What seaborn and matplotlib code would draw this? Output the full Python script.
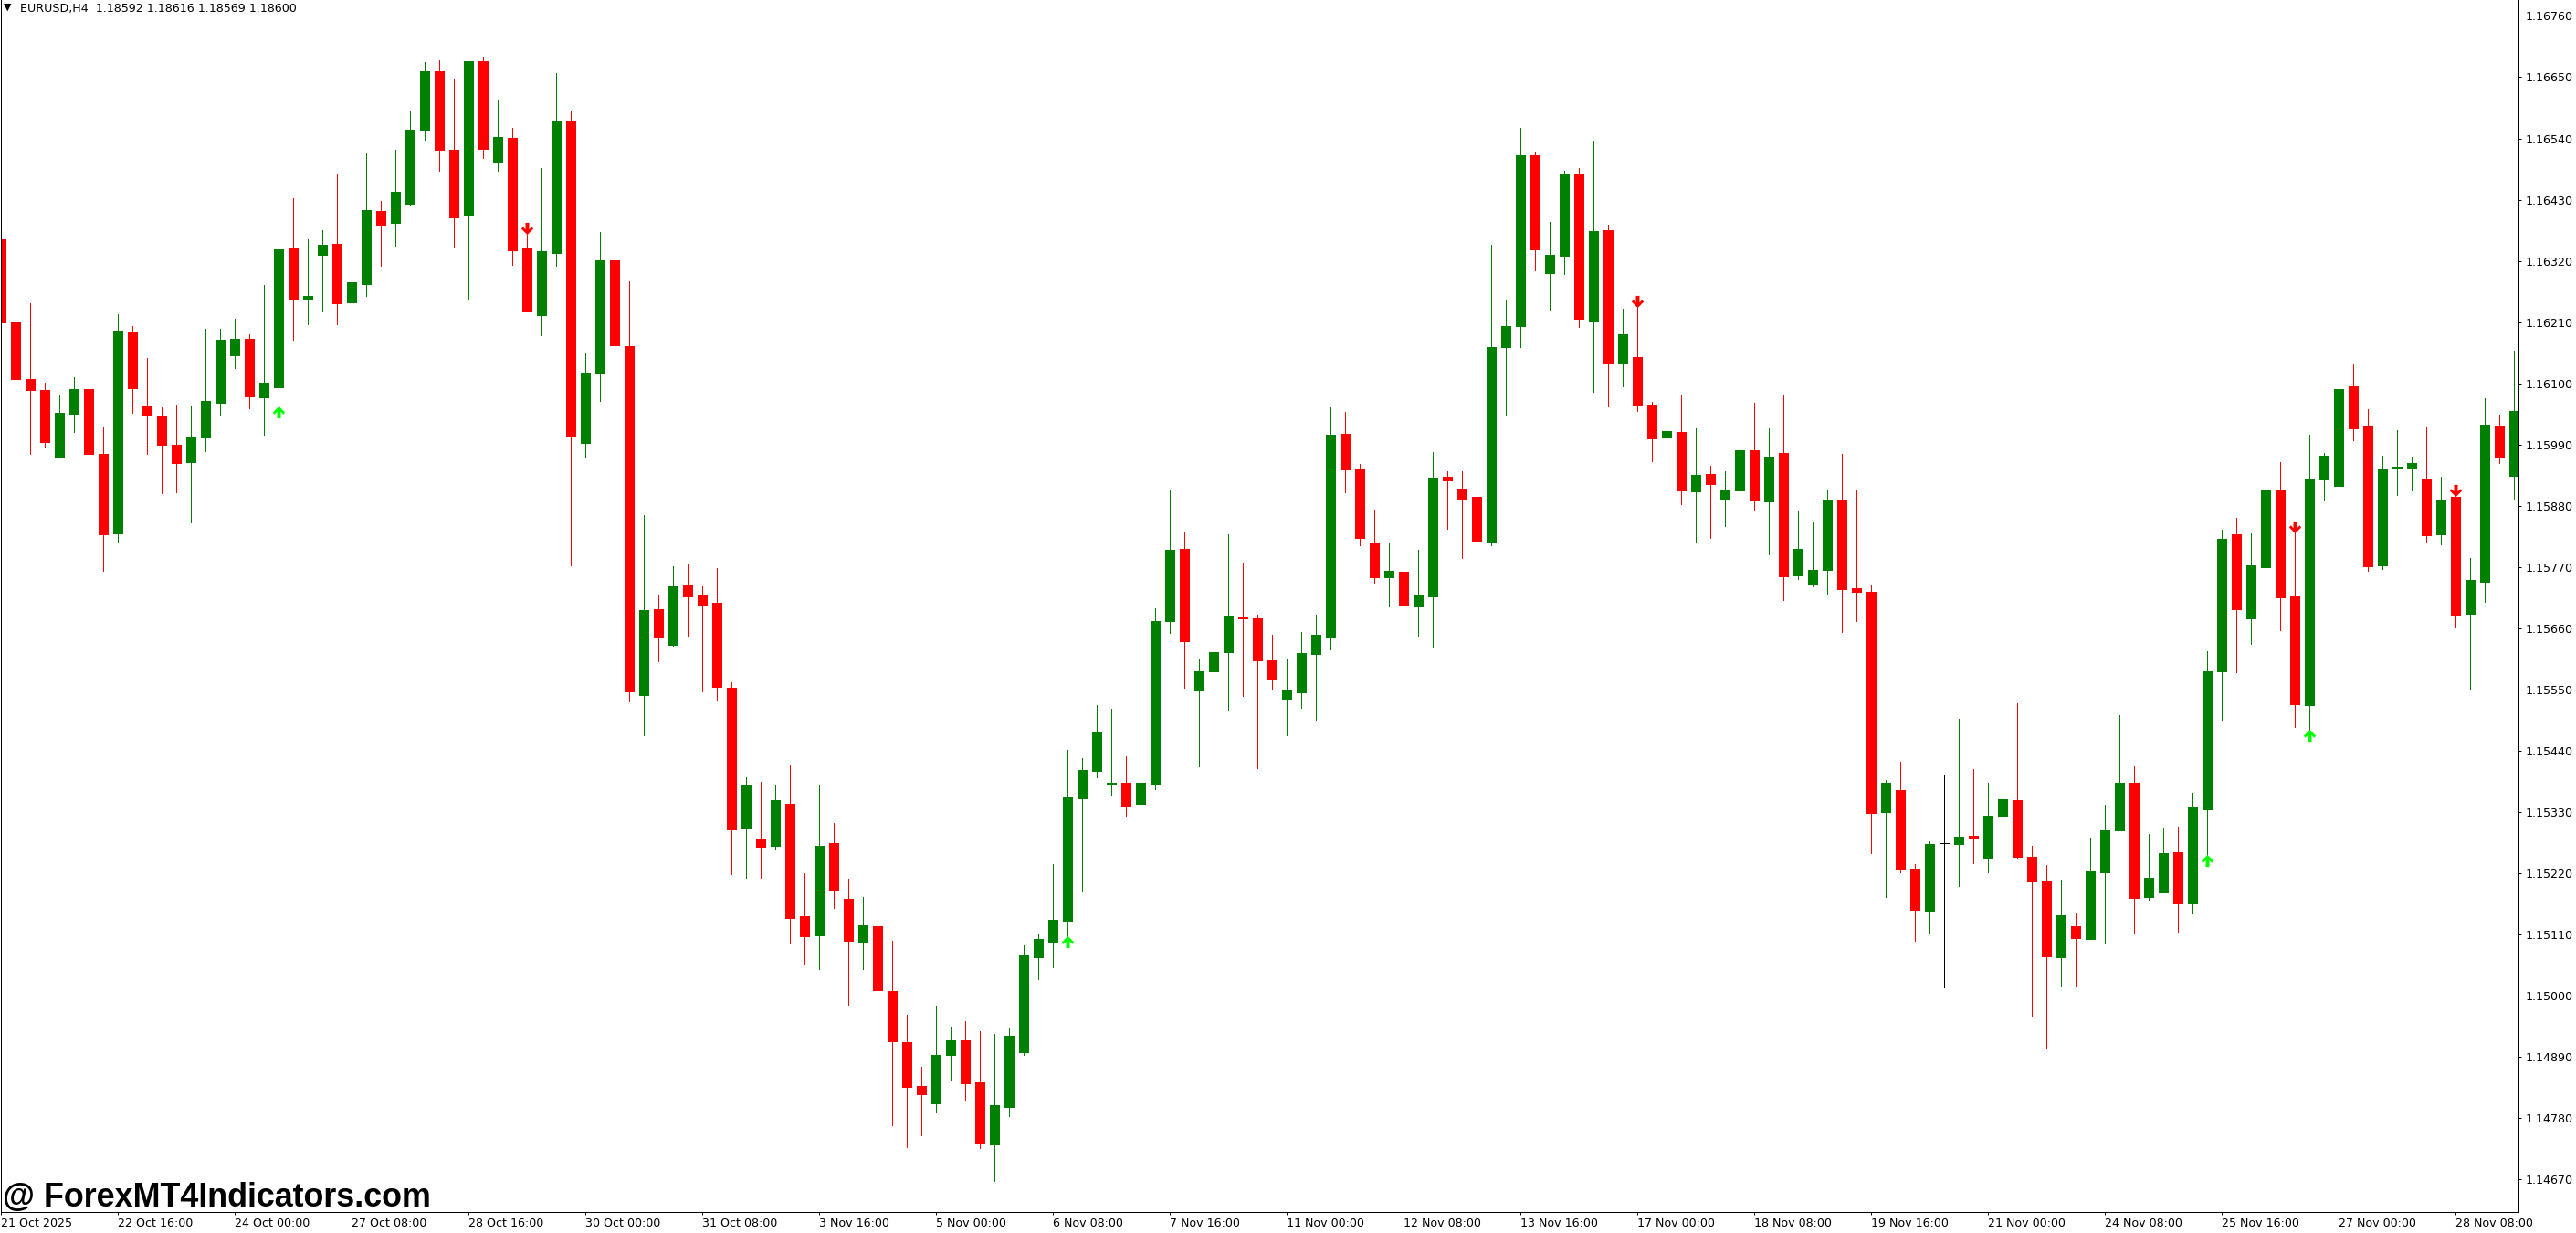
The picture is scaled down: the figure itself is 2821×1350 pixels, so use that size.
#!/usr/bin/env python3
import numpy as np
import pandas as pd
import matplotlib
matplotlib.use("Agg")
import matplotlib.pyplot as plt
from matplotlib.path import Path
import seaborn as sns

# EURUSD H4 candles, prices in points (1.16760 -> 116760)
opens = [
    116358, 116209, 116107, 116088, 115968, 116045, 116090, 115973, 115830, 116193,
    116060, 116042, 115989, 115958, 116002, 116065, 116150, 116180, 116075, 116092,
    116344, 116250, 116331, 116350, 116246, 116278, 116410, 116388, 116422, 116556,
    116660, 116520, 116401, 116679, 116498, 116541, 116342, 116222, 116334, 116570,
    115993, 116119, 116321, 116167, 115540, 115693, 115630, 115737, 115719, 115706,
    115553, 115300, 115280, 115269, 115344, 115142, 115108, 115274, 115173, 115097,
    115124, 115008, 114916, 114837, 114806, 114892, 114919, 114843, 114732, 114799,
    114898, 115069, 115097, 115132, 115354, 115404, 115379, 115382, 115344, 115379,
    115672, 115802, 115548, 115582, 115617, 115680, 115677, 115602, 115533, 115545,
    115613, 115644, 116009, 115947, 115814, 115751, 115761, 115699, 115717, 115932,
    115911, 115895, 115816, 116165, 116203, 116510, 116298, 116329, 116477, 116211,
    116375, 116137, 116147, 116061, 116002, 116012, 115905, 115937, 115892, 115907,
    115979, 115888, 115975, 115755, 115740, 115764, 115891, 115732, 115725, 115330,
    115369, 115227, 115152, 115273, 115272, 115287, 115246, 115323, 115351, 115249,
    115205, 115068, 115124, 115102, 115221, 115297, 115382, 115176, 115185, 115257,
    115166, 115334, 115582, 115829, 115678, 115769, 115907, 115717, 115522, 115927,
    115916, 116094, 116024, 115773, 115947, 115948, 115927, 115829, 115896, 115686,
    115743, 116024, 115934,
]
highs = [
    116377, 116270, 116243, 116101, 116078, 116111, 116157, 116021, 116224, 116202,
    116145, 116057, 116062, 116058, 116198, 116198, 116216, 116188, 116276, 116480,
    116433, 116358, 116375, 116476, 116331, 116515, 116427, 116520, 116589, 116677,
    116680, 116647, 116679, 116687, 116608, 116559, 116367, 116487, 116657, 116589,
    116153, 116372, 116340, 116283, 115863, 115720, 115771, 115776, 115735, 115768,
    115563, 115392, 115384, 115377, 115413, 115220, 115377, 115310, 115209, 115177,
    115336, 115098, 114965, 114871, 114980, 114944, 114954, 114936, 114931, 114941,
    115090, 115110, 115236, 115441, 115426, 115521, 115515, 115430, 115422, 115696,
    115909, 115833, 115605, 115662, 115828, 115778, 115684, 115648, 115604, 115653,
    115684, 116057, 116048, 115954, 115873, 115814, 115884, 115800, 115976, 115941,
    115941, 115929, 116348, 116249, 116559, 116517, 116390, 116482, 116486, 116536,
    116385, 116234, 116240, 116066, 116150, 116079, 116019, 115951, 115941, 116039,
    116064, 116019, 116078, 115870, 115852, 115909, 115973, 115909, 115736, 115387,
    115420, 115236, 115277, 115395, 115497, 115406, 115382, 115420, 115525, 115269,
    115234, 115206, 115147, 115282, 115342, 115504, 115411, 115290, 115300, 115302,
    115364, 115618, 115837, 115858, 115830, 115917, 115958, 115831, 116007, 115975,
    116126, 116135, 116053, 115970, 116016, 115968, 116021, 115932, 115896, 115786,
    116073, 116044, 116158,
]
lows = [
    116024, 116014, 115973, 115986, 115968, 116012, 115894, 115763, 115813, 116047,
    115973, 115902, 115904, 115850, 115977, 116042, 116127, 116055, 116007, 116056,
    116178, 116206, 116229, 116206, 116173, 116257, 116311, 116347, 116420, 116537,
    116482, 116344, 116252, 116504, 116482, 116312, 116229, 116186, 116311, 115772,
    115968, 116068, 116065, 115528, 115467, 115600, 115628, 115646, 115546, 115531,
    115218, 115211, 115212, 115262, 115093, 115056, 115047, 115157, 114981, 115047,
    114996, 114767, 114727, 114749, 114790, 114847, 114812, 114725, 114666, 114783,
    114892, 115029, 115050, 115102, 115186, 115391, 115359, 115321, 115293, 115370,
    115651, 115553, 115412, 115510, 115513, 115538, 115408, 115550, 115467, 115516,
    115495, 115622, 115904, 115809, 115742, 115699, 115679, 115646, 115625, 115838,
    115785, 115802, 115809, 116042, 116165, 116302, 116231, 116296, 116201, 116085,
    116058, 116094, 116050, 115959, 115948, 115883, 115816, 115822, 115843, 115877,
    115871, 115792, 115710, 115748, 115735, 115722, 115653, 115672, 115255, 115176,
    115221, 115098, 115111, 115014, 115196, 115238, 115221, 115321, 115246, 114961,
    114906, 115016, 115016, 115102, 115093, 115297, 115111, 115170, 115185, 115112,
    115147, 115253, 115496, 115580, 115632, 115746, 115656, 115482, 115476, 115889,
    115881, 115998, 115763, 115766, 115899, 115907, 115815, 115810, 115661, 115549,
    115707, 115957, 115892,
]
closes = [
    116210, 116107, 116088, 115994, 116047, 116090, 115973, 115829, 116194, 116091,
    116041, 115989, 115956, 116002, 116068, 116178, 116180, 116076, 116101, 116340,
    116252, 116257, 116349, 116243, 116282, 116411, 116385, 116444, 116556, 116660,
    116520, 116398, 116679, 116521, 116542, 116339, 116229, 116337, 116570, 116004,
    116119, 116321, 116168, 115546, 115692, 115644, 115735, 115717, 115702, 115555,
    115298, 115377, 115267, 115350, 115139, 115106, 115269, 115188, 115098, 115126,
    115009, 114918, 114835, 114822, 114892, 114919, 114842, 114733, 114803, 114928,
    115072, 115101, 115136, 115355, 115405, 115472, 115382, 115339, 115382, 115672,
    115800, 115636, 115582, 115617, 115682, 115677, 115602, 115569, 115548, 115615,
    115648, 116007, 115945, 115822, 115751, 115763, 115700, 115720, 115930, 115926,
    115892, 115817, 116165, 116203, 116510, 116341, 116331, 116477, 116216, 116373,
    116137, 116188, 116061, 116001, 116014, 115907, 115935, 115919, 115909, 115979,
    115889, 115968, 115753, 115802, 115764, 115891, 115730, 115725, 115327, 115382,
    115226, 115154, 115272, 115273, 115285, 115282, 115323, 115353, 115249, 115205,
    115070, 115144, 115103, 115223, 115297, 115382, 115175, 115211, 115255, 115166,
    115338, 115582, 115820, 115694, 115773, 115909, 115715, 115523, 115929, 115970,
    116090, 116019, 115771, 115947, 115950, 115957, 115827, 115891, 115684, 115746,
    116026, 115968, 116050,
]

# indicator arrows
buy_bars = [19, 73, 151, 158]
buy_prices = [116049, 115097, 115243, 115467]
sell_bars = [36, 112, 157, 168]
sell_prices = [116378, 116247, 115841, 115908]

date_labels = [
    "21 Oct 2025", "22 Oct 16:00", "24 Oct 00:00", "27 Oct 08:00", "28 Oct 16:00",
    "30 Oct 00:00", "31 Oct 08:00", "3 Nov 16:00", "5 Nov 00:00", "6 Nov 08:00",
    "7 Nov 16:00", "11 Nov 00:00", "12 Nov 08:00", "13 Nov 16:00", "17 Nov 00:00",
    "18 Nov 08:00", "19 Nov 16:00", "21 Nov 00:00", "24 Nov 08:00", "25 Nov 16:00",
    "27 Nov 00:00", "28 Nov 08:00",
]
date_bars = list(range(0, 176, 8))
price_labels = [
    "1.16760", "1.16650", "1.16540", "1.16430", "1.16320", "1.16210", "1.16100",
    "1.15990", "1.15880", "1.15770", "1.15660", "1.15550", "1.15440", "1.15330",
    "1.15220", "1.15110", "1.15000", "1.14890", "1.14780", "1.14670",
]

GREEN = "#008000"
RED = "#FF0000"
LIME = "#00FF00"
PX = 72 / 100  # one pixel in points at dpi 100

sns.set_style("white")
plt.rcParams["font.family"] = ["DejaVu Sans"]

df = pd.DataFrame({"open": opens, "high": highs, "low": lows, "close": closes}) / 1e5
df["bar"] = np.arange(len(df))
df["candle"] = df["bar"]
df["direction"] = np.where(df["close"] > df["open"], "up",
                           np.where(df["close"] < df["open"], "down", "flat"))
palette = {"up": GREEN, "down": RED, "flat": "black"}

wicks = df.melt(id_vars=["bar", "candle", "direction"], value_vars=["high", "low"], value_name="price")
bodies = df[df["direction"] != "flat"].melt(id_vars=["bar", "candle", "direction"],
                                            value_vars=["open", "close"], value_name="price")

fig = plt.figure(figsize=(28.21, 13.5), dpi=100, facecolor="white")
ax = fig.add_axes([0.5 / 2821, 23 / 1350, 2757.5 / 2821, 1327 / 1350])

sns.lineplot(data=wicks, x="bar", y="price", units="candle", hue="direction", palette=palette,
             estimator=None, legend=False, ax=ax, linewidth=PX, solid_capstyle="butt", antialiased=False)
sns.lineplot(data=bodies, x="bar", y="price", units="candle", hue="direction", palette=palette,
             estimator=None, legend=False, ax=ax, linewidth=11 * PX, solid_capstyle="butt", antialiased=False)

# open == close has no body, only a dash
flat = df[df["direction"] == "flat"]
ax.hlines(flat["close"], flat["bar"] - 0.34, flat["bar"] + 0.34, color="black", linewidth=PX, antialiased=False)

up_arrow = Path([(0, 1), (1, 0.0), (0.75, -0.35), (0.3, 0.1), (0.3, -1), (-0.3, -1),
                 (-0.3, 0.1), (-0.75, -0.35), (-1, 0.0), (0, 1)], closed=True)
down_arrow = Path(up_arrow.vertices * [1, -1], closed=True)
sns.scatterplot(x=buy_bars, y=np.array(buy_prices) / 1e5, marker=up_arrow, s=90, color=LIME,
                linewidth=0, legend=False, ax=ax, zorder=5)
sns.scatterplot(x=sell_bars, y=np.array(sell_prices) / 1e5, marker=down_arrow, s=90, color=RED,
                linewidth=0, legend=False, ax=ax, zorder=5)

ax.set_xlim(-0.05, 172.29)
ax.set_ylim(1.146104, 1.167887)
ax.set_xlabel("")
ax.set_ylabel("")

ax.set_xticks(date_bars)
ax.set_xticklabels(date_labels, ha="left", fontsize=9.1)
ax.set_yticks([float(p) for p in price_labels])
ax.set_yticklabels(price_labels, fontsize=9.1)
ax.yaxis.tick_right()
ax.tick_params(axis="x", length=3 * PX, width=PX, pad=2, color="black", labelcolor="black", bottom=True)
ax.tick_params(axis="y", length=3 * PX, width=PX, pad=3.6, color="black", labelcolor="black", right=True)

ax.spines["top"].set_visible(False)
for side in ["left", "right", "bottom"]:
    ax.spines[side].set_visible(True)
    ax.spines[side].set_color("black")
    ax.spines[side].set_linewidth(PX)

# header and watermark
fig.text(4 / 2821, 1 - 8 / 1350, "▼", fontsize=8, color="black", va="center", ha="left")
fig.text(22 / 2821, 1 - 9 / 1350, "EURUSD,H4  1.18592 1.18616 1.18569 1.18600", fontsize=9.1,
         color="black", va="center", ha="left")
fig.text(3 / 2821, 1 - 1321 / 1350, "@ ForexMT4Indicators.com", fontsize=25.8, fontweight="bold",
         family="Liberation Sans", color="black", va="baseline", ha="left")

fig.savefig("out.png", dpi=100, facecolor="white")
plt.close(fig)
